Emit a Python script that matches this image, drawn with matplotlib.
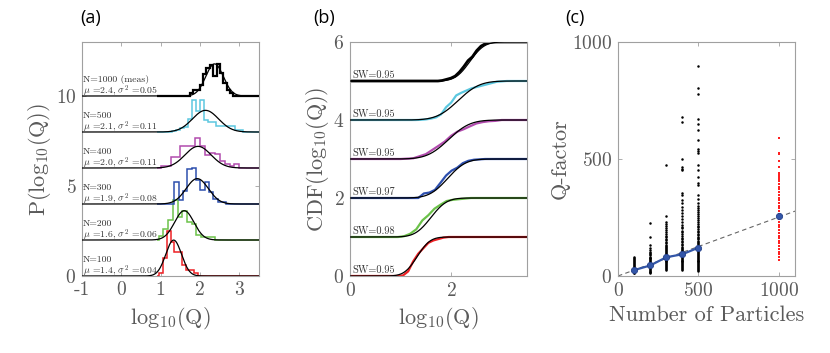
import math
import numpy as np
import matplotlib
matplotlib.use('Agg')
import matplotlib.pyplot as plt

# ---------------- data: panels (a) and (b) ----------------
n_labels = ['N=100', 'N=200', 'N=300', 'N=400', 'N=500', 'N=1000 (meas)']
mu_label = ['1.4', '1.6', '1.9', '2.0', '2.1', '2.4']
var_label = ['0.04', '0.06', '0.08', '0.11', '0.11', '0.05']
mu_fit = [1.33, 1.60, 1.93, 1.95, 2.14, 2.37]
var_fit = [0.04, 0.06, 0.08, 0.11, 0.11, 0.05]
sw_labels = ['SW=0.95', 'SW=0.98', 'SW=0.97', 'SW=0.95', 'SW=0.95', 'SW=0.95']
series_colors = ['#ee2024', '#6cc24a', '#2d4fae', '#b24cae', '#5cc8e0', '#000000']

hist_start = [0.95, 0.95, 1.35, 1.0, 1.3, 1.74]
hist_width = [0.1, 0.12, 0.11, 0.125, 0.1, 0.085]
hist_100 = [0.15, 1.0, 2.5, 1.9, 1.35, 1.35, 0.6, 0.35, 0.35, 0.15]
hist_200 = [0.2, 0.6, 1.1, 2.2, 1.3, 1.6, 1.0, 0.9, 0.3, 0.15, 0.15, 0.15]
hist_300 = [1.25, 0.25, 0.75, 1.95, 2.0, 1.35, 0.8, 1.25, 0.65, 0.3, 0.1, 0.1]
hist_400 = [0.1, 0.1, 0.6, 0.6, 1.2, 1.2, 1.25, 1.65, 1.2, 0.7, 0.85, 0.8, 0.4, 0.25, 0.1, 0.25]
hist_500 = [0.05, 0.1, 0.2, 0.3, 0.75, 1.8, 1.15, 1.8, 0.65, 0.55, 0.55, 0.33, 0.33, 0.33,
            0.33, 0.33, 0.1, 0.1]
hist_1000 = [0.15, 0.33, 0.35, 0.6, 1.2, 1.55, 1.75, 1.1, 1.8, 1.3, 0.7, 0.35, 0.15]
hists = [hist_100, hist_200, hist_300, hist_400, hist_500, hist_1000]

a_xticks = [-1, 0, 1, 2, 3]
a_xticklabels = ['-1', '0', '1', '2', '3']
a_yticks = [0, 5, 10]
b_xticks = [0, 2]
b_yticks = [0, 2, 4, 6]

# ---------------- data: panel (c) ----------------
particles = [100, 200, 300, 400, 500]
q100 = [11, 14, 17, 20, 23, 26, 29, 32, 35, 38, 42, 46, 50, 54, 58, 63, 68, 73, 78, 82]
q200 = [12, 15, 19, 23, 27, 31, 35, 39, 43, 47, 51, 55, 59, 63, 67, 71, 75, 79, 83, 88,
        93, 98, 104, 111, 118, 132, 165, 228]
q300 = [26, 30, 34, 38, 42, 46, 50, 54, 58, 62, 66, 70, 74, 78, 82, 86, 90, 94, 98, 102,
        106, 110, 114, 119, 124, 129, 134, 140, 146, 152, 158, 165, 172, 180, 188, 196,
        205, 214, 223, 232, 258, 473]
q400 = [26, 30, 34, 38, 42, 46, 50, 54, 58, 62, 66, 70, 74, 78, 82, 86, 90, 95, 100, 105,
        110, 115, 120, 126, 132, 138, 144, 150, 157, 164, 171, 178, 186, 194, 203, 211,
        220, 232, 245, 258, 270, 282, 296, 311, 325, 346, 353, 453, 459, 467, 501, 657, 678]
q500 = [22, 26, 30, 34, 38, 42, 46, 50, 54, 58, 62, 66, 70, 74, 78, 82, 86, 90, 94, 98,
        102, 106, 110, 115, 120, 125, 130, 135, 140, 145, 150, 156, 162, 168, 174, 180,
        187, 194, 201, 208, 215, 223, 231, 239, 247, 256, 265, 274, 283, 290, 300, 311,
        330, 346, 389, 396, 424, 453, 476, 527, 534, 541, 580, 624, 650, 671, 776, 805, 899]
q_groups = [q100, q200, q300, q400, q500]
meas_particles = 1000
q1000 = [68, 80, 92, 104, 115, 127, 139, 150, 162, 173, 185, 196, 208, 219, 231, 243, 254,
         266, 277, 289, 300, 312, 323, 335, 347, 358, 370, 381, 393, 404, 416, 424, 432,
         439, 467, 491, 521, 527, 588]
q_mean = [25, 45, 80, 93, 121]
q_mean_1000 = 256
fit_slope = 0.252
c_ticks = [0, 500, 1000]

# ---------------- style ----------------
plt.rcParams['font.family'] = 'serif'
plt.rcParams['font.serif'] = ['cmr10', 'DejaVu Serif']
plt.rcParams['mathtext.fontset'] = 'cm'
plt.rcParams['axes.unicode_minus'] = False
plt.rcParams['axes.formatter.use_mathtext'] = True

TICK_COL = '#5a5a5a'
SPINE_COL = '#a0a0a0'
TICK_FS = 14
LABEL_FS = 16
SMALL_FS = 7.0

fig = plt.figure(figsize=(8.3, 3.53), dpi=100)
W, H = 830.0, 353.0


def make_ax(left_px):
    ax = fig.add_axes([left_px / W, 1 - 276 / H, 177 / W, 234 / H])
    for s in ax.spines.values():
        s.set_color(SPINE_COL)
        s.set_linewidth(0.8)
    ax.tick_params(direction='in', length=3, width=0.6, color=SPINE_COL,
                   labelcolor=TICK_COL, labelsize=TICK_FS, top=True, right=True, pad=4)
    return ax


def gauss(x, mu, var):
    return np.exp(-(x - mu) ** 2 / (2 * var)) / np.sqrt(2 * np.pi * var)


def norm_cdf(x, mu, var):
    return np.array([0.5 * (1 + math.erf((v - mu) / math.sqrt(2 * var))) for v in x])


# ---------------- panel (a) ----------------
axa = make_ax(82)
xa = np.linspace(-1, 3.5, 600)
for i, h in enumerate(hists):
    off = 2 * i
    h = np.asarray(h, dtype=float)
    edges = hist_start[i] + hist_width[i] * np.arange(len(h) + 1)
    e_full = np.concatenate([[0.9], edges, [3.5]])
    v_full = np.concatenate([[0.0], h, [0.0]]) + off
    lw = 1.6 if i == 5 else 1.1
    axa.stairs(v_full, e_full, baseline=None, color=series_colors[i], lw=lw, zorder=2)
    axa.plot(xa, gauss(xa, mu_fit[i], var_fit[i]) + off, color='k', lw=0.9, zorder=3)
    axa.text(-0.97, off + 0.80, n_labels[i], fontsize=SMALL_FS, color='#333333',
             va='baseline', zorder=4)
    axa.text(-0.97, off + 0.12, r'$\mu$ =' + mu_label[i] + r', $\sigma^2$ =' + var_label[i],
             fontsize=SMALL_FS, color='#333333', va='baseline', zorder=4)
axa.set_xlim(-1, 3.5)
axa.set_ylim(0, 13)
axa.set_xticks(a_xticks)
axa.set_xticklabels(a_xticklabels)
axa.set_yticks(a_yticks)
axa.set_xlabel(r'log$_{10}$(Q)', fontsize=LABEL_FS, color=TICK_COL)
axa.set_ylabel(r'P(log$_{10}$(Q))', fontsize=LABEL_FS, color=TICK_COL, labelpad=2)

# ---------------- panel (b) ----------------
axb = make_ax(350)
xb = np.linspace(0, 3.5, 500)
for i, h in enumerate(hists):
    off = i
    h = np.asarray(h, dtype=float)
    edges = hist_start[i] + hist_width[i] * np.arange(len(h) + 1)
    cum = np.concatenate([[0.0], np.cumsum(h)]) / np.sum(h)
    xe = np.concatenate([[0.0], edges, [3.5]])
    ye = np.concatenate([[0.0], cum, [1.0]]) + off
    lw = 2.0 if i == 5 else 1.6
    axb.plot(xe, ye, color=series_colors[i], lw=lw, zorder=2)
    axb.plot(xb, norm_cdf(xb, mu_fit[i], var_fit[i]) + off, color='k', lw=0.9, zorder=3)
    axb.text(0.04, off + 0.03, sw_labels[i], fontsize=SMALL_FS + 0.4, color='#333333',
             va='bottom', zorder=4)
axb.set_xlim(0, 3.5)
axb.set_ylim(0, 6)
axb.set_xticks(b_xticks)
axb.set_yticks(b_yticks)
axb.set_xlabel(r'log$_{10}$(Q)', fontsize=LABEL_FS, color=TICK_COL)
axb.set_ylabel(r'CDF(log$_{10}$(Q))', fontsize=LABEL_FS, color=TICK_COL, labelpad=2)

# ---------------- panel (c) ----------------
axc = make_ax(618)
axc.axline((0, 0), slope=fit_slope, color='#666666', lw=0.8, ls=(0, (4, 3)), zorder=1)
for n, q in zip(particles, q_groups):
    axc.plot(np.full(len(q), n), q, 'o', color='k', ms=1.8, mew=0, zorder=2)
axc.plot(np.full(len(q1000), meas_particles), q1000, 's', color='#ff2020', ms=1.5, mew=0,
         zorder=2)
axc.plot(particles, q_mean, '-o', color='#3356a8', lw=1.6, ms=4.5, mfc='#3356a8',
         mec='#24408a', mew=0.6, zorder=3)
axc.plot([meas_particles], [q_mean_1000], 'o', color='#3356a8', ms=4.5, mec='#24408a',
         mew=0.6, zorder=3)
axc.set_xlim(0, 1100)
axc.set_ylim(0, 1000)
axc.set_xticks(c_ticks)
axc.set_yticks(c_ticks)
axc.set_xlabel('Number of Particles', fontsize=LABEL_FS, color=TICK_COL)
axc.set_ylabel('Q-factor', fontsize=LABEL_FS, color=TICK_COL, labelpad=2)

# ---------------- panel letters ----------------
for xp, lab in [(80, '(a)'), (313, '(b)'), (565, '(c)')]:
    fig.text(xp / W, 1 - 17.5 / H, lab, fontsize=13, family=['Open Sans', 'DejaVu Sans'],
             va='center', ha='left', color='k')

fig.savefig('out.png', dpi=100)
